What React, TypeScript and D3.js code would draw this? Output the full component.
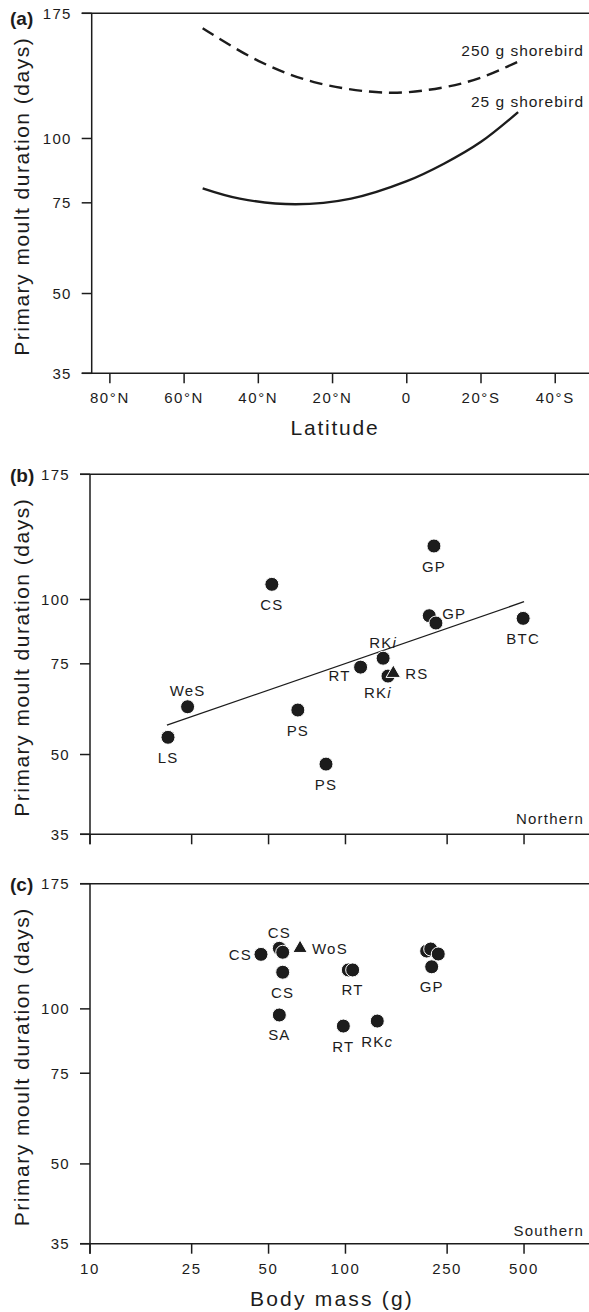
import React from "react";
import * as d3 from "d3";

const W = 589;
const H = 1312;
const FONT = "'Liberation Sans', Arial, Helvetica, sans-serif";
const INK = "#1c1c1c";

// ---------- data ----------
const dayTicks = [35, 50, 75, 100, 175];
const latTicks = [80, 60, 40, 20, 0, -20, -40];
const massTicks = [10, 25, 50, 100, 250, 500];

// Panel (a): model curves (latitude: + = North, - = South)
const curve250g = [
  { lat: 55, days: 163.7 },
  { lat: 40, days: 141.5 },
  { lat: 25, days: 128.7 },
  { lat: 5, days: 122.7 },
  { lat: -10, days: 125.7 },
  { lat: -20, days: 131.3 },
  { lat: -30, days: 141 },
];
const curve25g = [
  { lat: 55, days: 80 },
  { lat: 45, days: 76.4 },
  { lat: 30, days: 74.5 },
  { lat: 15, days: 76.4 },
  { lat: 0, days: 82.6 },
  { lat: -10, days: 89.3 },
  { lat: -20, days: 98.5 },
  { lat: -30, days: 112.5 },
];

// Panel (b): Northern hemisphere
const northernPoints = [
  { mass: 20.2, days: 54.0, shape: "circle", label: "LS", place: "below" },
  { mass: 24.1, days: 61.9, shape: "circle", label: "WeS", place: "above" },
  { mass: 51.5, days: 107.0, shape: "circle", label: "CS", place: "below" },
  { mass: 65.1, days: 61.0, shape: "circle", label: "PS", place: "below" },
  { mass: 83.9, days: 47.9, shape: "circle", label: "PS", place: "below" },
  { mass: 114.6, days: 73.9, shape: "circle", label: "RT", place: "leftlow" },
  { mass: 140.4, days: 76.9, shape: "circle", label: "RKi", place: "above" },
  { mass: 146.7, days: 71.0, shape: "circle", label: "RKi", place: "belowleft" },
  { mass: 153.9, days: 71.9, shape: "triangle", label: "RS", place: "right" },
  { mass: 222, days: 127, shape: "circle", label: "GP", place: "below" },
  { mass: 212.8, days: 93.0, shape: "circle", label: "GP", place: "rightup" },
  { mass: 226, days: 90.0, shape: "circle", label: "", place: "none" },
  { mass: 496, days: 91.9, shape: "circle", label: "BTC", place: "below" },
];
const northernFit = [
  { mass: 20, days: 57 },
  { mass: 500, days: 99 },
];

// Panel (c): Southern hemisphere
const southernPoints = [
  { mass: 46.7, days: 127.6, shape: "circle", label: "CS", place: "left" },
  { mass: 55.1, days: 131.1, shape: "circle", label: "CS", place: "above" },
  { mass: 56.8, days: 128.8, shape: "circle", label: "", place: "none" },
  { mass: 56.8, days: 117.8, shape: "circle", label: "CS", place: "below" },
  { mass: 55.1, days: 97.3, shape: "circle", label: "SA", place: "below" },
  { mass: 66.4, days: 131.1, shape: "triangle", label: "WoS", place: "right" },
  { mass: 102.6, days: 119.0, shape: "circle", label: "", place: "none" },
  { mass: 106.7, days: 119.0, shape: "circle", label: "RT", place: "below" },
  { mass: 98.1, days: 92.6, shape: "circle", label: "RT", place: "below" },
  { mass: 133.2, days: 94.7, shape: "circle", label: "RKc", place: "below" },
  { mass: 207.9, days: 129.5, shape: "circle", label: "", place: "none" },
  { mass: 215.6, days: 130.7, shape: "circle", label: "", place: "none" },
  { mass: 230.8, days: 127.8, shape: "circle", label: "", place: "none" },
  { mass: 217.5, days: 120.7, shape: "circle", label: "GP", place: "below" },
];

// ---------- layout ----------
const PANEL_H = 360;
const TICK = 10;
const PLACE: Record<string, { dx: number; dy: number; anchor: string }> = {
  below: { dx: 0, dy: 20, anchor: "middle" },
  above: { dx: 0, dy: -16, anchor: "middle" },
  left: { dx: -9, dy: 0, anchor: "end" },
  leftlow: { dx: -10, dy: 8, anchor: "end" },
  right: { dx: 12, dy: 0, anchor: "start" },
  rightup: { dx: 13, dy: -2, anchor: "start" },
  belowleft: { dx: -10, dy: 16, anchor: "middle" },
};

function labelContent(t: string) {
  if (t === "RKi" || t === "RKc") {
    return (
      <>
        RK<tspan fontStyle="italic">{t.slice(2)}</tspan>
      </>
    );
  }
  return t;
}

function Frame({ top, axisX, x, xTicks, xFmt, tag, tagY, extendBelow }: any) {
  const y = d3.scaleLog().domain([35, 175]).range([top + PANEL_H, top]);
  const bottom = top + PANEL_H;
  return (
    <g>
      <line x1={axisX - TICK} x2={W} y1={top} y2={top} stroke={INK} strokeWidth={1.5} />
      <line x1={axisX - TICK} x2={W} y1={bottom} y2={bottom} stroke={INK} strokeWidth={1.5} />
      <line
        x1={axisX}
        x2={axisX}
        y1={top}
        y2={bottom + (extendBelow ? TICK : 0)}
        stroke={INK}
        strokeWidth={1.5}
      />
      {dayTicks.map((d) => (
        <g key={d}>
          <line x1={axisX - TICK} x2={axisX} y1={y(d)} y2={y(d)} stroke={INK} strokeWidth={1.5} />
          <text
            x={axisX - 20}
            y={y(d) + 5.5}
            textAnchor="end"
            fontSize={15}
            letterSpacing={1.3}
            fill={INK}
          >
            {d}
          </text>
        </g>
      ))}
      {xTicks.map((t: number) => (
        <g key={t}>
          <line x1={x(t)} x2={x(t)} y1={bottom} y2={bottom + TICK} stroke={INK} strokeWidth={1.5} />
          {xFmt && (
            <text
              x={x(t)}
              y={bottom + 30}
              textAnchor="middle"
              fontSize={15}
              letterSpacing={1.6}
              fill={INK}
            >
              {xFmt(t)}
            </text>
          )}
        </g>
      ))}
      <text x={10} y={tagY} fontSize={19} fontWeight="bold" fill={INK}>
        {tag}
      </text>
      <text
        transform={`translate(29,${top + 183}) rotate(-90)`}
        textAnchor="middle"
        fontSize={21}
        letterSpacing={1.5}
        fill={INK}
      >
        Primary moult duration (days)
      </text>
    </g>
  );
}

function Points({ pts, x, y }: any) {
  const tri = d3.symbol().type(d3.symbolTriangle).size(90)();
  return (
    <g>
      {pts.map((p: any, i: number) => {
        const cx = x(p.mass);
        const cy = y(p.days);
        return p.shape === "triangle" ? (
          <path key={i} d={tri as string} transform={`translate(${cx},${cy})`} fill={INK} stroke="#fff" strokeWidth={1} />
        ) : (
          <circle key={i} cx={cx} cy={cy} r={7} fill={INK} stroke="#fff" strokeWidth={1} />
        );
      })}
      {pts
        .filter((p: any) => p.place !== "none")
        .map((p: any, i: number) => {
          const o = PLACE[p.place];
          return (
            <text
              key={"l" + i}
              x={x(p.mass) + o.dx}
              y={y(p.days) + o.dy + 5.5}
              textAnchor={o.anchor}
              fontSize={15}
              letterSpacing={1.2}
              fill={INK}
            >
              {labelContent(p.label)}
            </text>
          );
        })}
    </g>
  );
}

export default function App() {
  const topA = 13.3;
  const topB = 474.3;
  const topC = 883.7;

  const xLat = d3.scaleLinear().domain([84.9, -49.1]).range([91.7, 589]);
  const yA = d3.scaleLog().domain([35, 175]).range([topA + PANEL_H, topA]);
  const xMass = d3.scaleLog().domain([10, 898]).range([90, 589]);
  const yB = d3.scaleLog().domain([35, 175]).range([topB + PANEL_H, topB]);
  const yC = d3.scaleLog().domain([35, 175]).range([topC + PANEL_H, topC]);

  const latLine = d3
    .line<any>()
    .x((d) => xLat(d.lat))
    .y((d) => yA(d.days))
    .curve(d3.curveCatmullRom.alpha(0.5));

  const fitLine = d3
    .line<any>()
    .x((d) => xMass(d.mass))
    .y((d) => yB(d.days));

  const latFmt = (v: number) => (v === 0 ? "0" : v > 0 ? `${v}°N` : `${-v}°S`);

  return (
    <svg
      width={W}
      height={H}
      viewBox={`0 0 ${W} ${H}`}
      style={{ position: "absolute", left: 0, top: 0, background: "#fff" }}
      fontFamily={FONT}
    >
      <rect width={W} height={H} fill="#fff" />
      {/* Panel (a) */}
      <Frame top={topA} axisX={91.7} x={xLat} xTicks={latTicks} xFmt={latFmt} tag="(a)" tagY={25} extendBelow={false} />
      <path d={latLine(curve250g) || ""} fill="none" stroke={INK} strokeWidth={2.4} strokeDasharray="13,7" />
      <path d={latLine(curve25g) || ""} fill="none" stroke={INK} strokeWidth={2.4} />
      <text x={584} y={55.5} textAnchor="end" fontSize={15.5} letterSpacing={1} fill={INK}>
        250 g shorebird
      </text>
      <text x={584} y={106.5} textAnchor="end" fontSize={15.5} letterSpacing={1} fill={INK}>
        25 g shorebird
      </text>
      <text x={335} y={435} textAnchor="middle" fontSize={21} letterSpacing={1.8} fill={INK}>
        Latitude
      </text>

      {/* Panel (b) */}
      <Frame top={topB} axisX={90} x={xMass} xTicks={massTicks} xFmt={null} tag="(b)" tagY={482} extendBelow={true} />
      <path d={fitLine(northernFit) || ""} fill="none" stroke={INK} strokeWidth={1.3} />
      <Points pts={northernPoints} x={xMass} y={yB} />
      <text x={584} y={823.5} textAnchor="end" fontSize={15} letterSpacing={1.2} fill={INK}>
        Northern
      </text>

      {/* Panel (c) */}
      <Frame top={topC} axisX={90} x={xMass} xTicks={massTicks} xFmt={(v: number) => String(v)} tag="(c)" tagY={891} extendBelow={true} />
      <Points pts={southernPoints} x={xMass} y={yC} />
      <text x={584} y={1235.5} textAnchor="end" fontSize={15} letterSpacing={1.2} fill={INK}>
        Southern
      </text>
      <text x={332} y={1306} textAnchor="middle" fontSize={21} letterSpacing={2.2} fill={INK}>
        Body mass (g)
      </text>
    </svg>
  );
}
